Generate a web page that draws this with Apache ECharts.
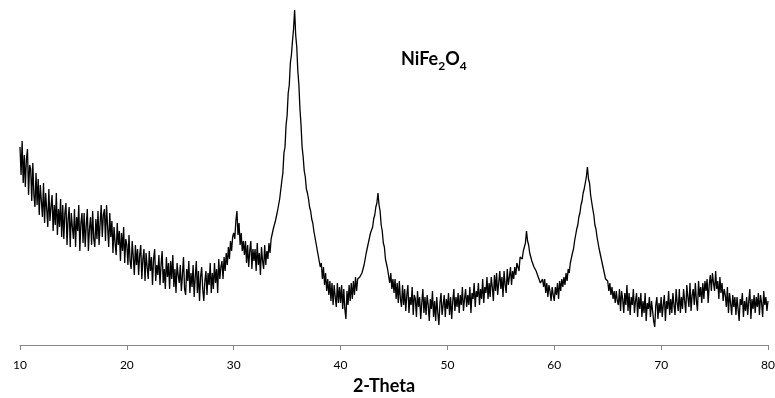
<!DOCTYPE html>
<html>
<head>
<meta charset="utf-8">
<script src="https://cdn.jsdelivr.net/npm/echarts@6/dist/echarts.min.js"></script>
<style>
  html, body { margin: 0; padding: 0; background: #fff; }
  #chart { width: 775px; height: 398px; }
</style>
</head>
<body>
<div id="chart"></div>
<script>
// 2-Theta sampling: start angle and step (degrees)
var thetaStart = 10;
var thetaStep = 0.1;

// intensity (a.u.), one row = 1 degree (x.0 .. x.9)
var intensity = [
  198, 170, 204, 162, 190, 158, 186, 196, 150, 180,   // 10
  176, 144, 182, 150, 138, 172, 140, 166, 130, 160,   // 11
  158, 128, 162, 122, 152, 136, 118, 156, 124, 138,   // 12
  150, 114, 140, 120, 152, 110, 136, 118, 146, 108,   // 13
  140, 106, 132, 142, 100, 126, 138, 98, 132, 118,    // 14
  106, 136, 98, 128, 114, 140, 94, 122, 132, 102,     // 15
  132, 98, 120, 136, 94, 116, 128, 100, 134, 106,     // 16
  98, 126, 106, 134, 100, 122, 140, 108, 130, 136,    // 17
  104, 140, 118, 98, 132, 108, 124, 92, 118, 102,     // 18
  90, 122, 100, 114, 84, 112, 94, 118, 82, 106,       // 19
  100, 80, 110, 84, 76, 104, 88, 70, 100, 80,         // 20
  96, 70, 90, 100, 66, 86, 96, 64, 92, 78,            // 21
  66, 94, 74, 88, 60, 86, 96, 64, 80, 70,             // 22
  90, 60, 80, 94, 62, 76, 56, 88, 68, 82,             // 23
  56, 84, 66, 90, 58, 76, 52, 82, 70, 62,             // 24
  80, 54, 70, 88, 56, 50, 76, 64, 84, 52,             // 25
  72, 58, 80, 48, 68, 84, 52, 74, 44, 68,             // 26
  78, 56, 44, 64, 74, 50, 72, 60, 82, 52,             // 27
  72, 56, 82, 62, 76, 52, 86, 66, 78, 84,             // 28
  66, 88, 74, 92, 80, 98, 86, 104, 94, 108,           // 29
  112, 106, 124, 134, 110, 122, 100, 112, 94, 104,    // 30
  90, 104, 82, 100, 78, 94, 104, 76, 96, 84,          // 31
  96, 74, 102, 80, 92, 70, 98, 84, 76, 100,           // 32
  80, 94, 86, 102, 92, 106, 104, 116, 114, 124,       // 33
  124, 134, 134, 146, 146, 164, 172, 192, 198, 220,   // 34
  230, 252, 260, 282, 290, 304, 316, 335, 310, 298,   // 35
  274, 260, 236, 220, 198, 188, 174, 168, 156, 152,   // 36
  146, 138, 134, 126, 122, 114, 114, 102, 102, 90,    // 37
  92, 78, 82, 66, 78, 60, 72, 54, 66, 50,             // 38
  64, 44, 62, 40, 60, 48, 38, 62, 42, 58,             // 39
  42, 60, 36, 56, 36, 26, 54, 40, 60, 44,             // 40
  62, 46, 64, 50, 68, 54, 66, 64, 68, 70,             // 41
  72, 76, 80, 82, 92, 92, 102, 102, 112, 114,         // 42
  118, 126, 130, 138, 142, 152, 140, 134, 120, 114,   // 43
  102, 98, 86, 86, 76, 74, 62, 72, 56, 66,            // 44
  52, 66, 46, 62, 42, 64, 46, 38, 60, 40,             // 45
  56, 34, 50, 60, 32, 48, 40, 58, 30, 50,             // 46
  46, 28, 54, 38, 48, 26, 42, 56, 32, 48,             // 47
  30, 50, 40, 24, 46, 36, 54, 28, 44, 24,             // 48
  48, 32, 20, 42, 52, 30, 40, 50, 28, 46,             // 49
  36, 52, 30, 48, 26, 44, 56, 34, 48, 38,             // 50
  52, 32, 50, 40, 58, 34, 46, 56, 38, 50,             // 51
  40, 58, 32, 52, 46, 62, 38, 54, 48, 62,             // 52
  40, 56, 46, 66, 42, 58, 52, 68, 46, 62,             // 53
  48, 68, 58, 44, 70, 54, 72, 50, 62, 74,             // 54
  56, 68, 48, 74, 60, 52, 76, 60, 68, 78,             // 55
  60, 74, 66, 78, 70, 82, 80, 74, 88, 86,             // 56
  86, 94, 96, 102, 114, 104, 100, 92, 92, 84,         // 57
  86, 78, 78, 74, 72, 68, 68, 62, 62, 66,             // 58
  58, 66, 52, 62, 48, 60, 54, 44, 58, 50,             // 59
  44, 58, 50, 62, 46, 64, 54, 66, 58, 68,             // 60
  60, 72, 64, 76, 72, 82, 84, 92, 96, 104,            // 61
  106, 116, 120, 128, 132, 140, 144, 152, 156, 162,   // 62
  168, 178, 166, 162, 150, 148, 136, 130, 120, 116,   // 63
  108, 106, 96, 94, 86, 84, 76, 74, 66, 66,           // 64
  64, 54, 62, 50, 58, 46, 54, 42, 54, 44,             // 65
  40, 56, 34, 54, 46, 32, 52, 40, 60, 34,             // 66
  52, 30, 48, 40, 56, 32, 44, 52, 28, 48,             // 67
  36, 52, 28, 44, 32, 52, 24, 42, 36, 48,             // 68
  28, 44, 34, 24, 18, 40, 48, 26, 42, 32,             // 69
  48, 28, 40, 50, 24, 44, 36, 54, 30, 46,             // 70
  32, 52, 40, 30, 56, 42, 34, 56, 32, 48,             // 71
  36, 56, 44, 32, 60, 48, 38, 62, 34, 50,             // 72
  56, 40, 62, 44, 34, 64, 48, 58, 42, 62,             // 73
  46, 64, 54, 66, 42, 60, 70, 54, 72, 62,             // 74
  54, 74, 56, 64, 46, 68, 52, 62, 44, 56,             // 75
  50, 38, 58, 32, 52, 42, 30, 50, 38, 48,             // 76
  30, 48, 36, 24, 46, 40, 52, 28, 44, 34,             // 77
  48, 30, 44, 56, 26, 46, 36, 50, 32, 48,             // 78
  38, 52, 30, 50, 42, 28, 54, 40, 48, 34,             // 79
  44                                                  // 80
];

var xTicks = [10, 20, 30, 40, 50, 60, 70, 80];

var seriesData = intensity.map(function (v, i) {
  return [+(thetaStart + i * thetaStep).toFixed(1), v];
});

var chart = echarts.init(document.getElementById('chart'));
var option = {
  animation: false,
  backgroundColor: '#fff',
  title: {
    text: '{a|NiFe}{s|2}{a|O}{s|4}',
    left: 396,
    top: 45,
    textStyle: {
      rich: {
        a: { fontFamily: 'Lato', fontWeight: 'bold', fontSize: 18, color: '#000', verticalAlign: 'top', lineHeight: 22 },
        s: { fontFamily: 'Lato', fontWeight: 'bold', fontSize: 12, color: '#000', verticalAlign: 'bottom', lineHeight: 22 }
      }
    }
  },
  grid: { left: 20, right: 7, top: 0, bottom: 53, outerBoundsMode: 'none', containLabel: false },
  xAxis: {
    type: 'value',
    min: 10,
    max: 80,
    interval: 10,
    name: '2-Theta',
    nameLocation: 'middle',
    nameGap: 32,
    nameTextStyle: { fontFamily: 'Lato', fontWeight: 'bold', fontSize: 18, color: '#000', padding: [0, 20, 0, 0] },
    axisLine: { lineStyle: { color: '#868686', width: 1 } },
    axisTick: { show: true, length: 5, lineStyle: { color: '#868686' } },
    splitLine: { show: false },
    axisLabel: {
      fontFamily: 'Lato', fontSize: 12, color: '#000', margin: 14,
      formatter: function (v) { return xTicks.indexOf(v) >= 0 ? String(v) : ''; }
    }
  },
  yAxis: {
    type: 'value',
    min: 0,
    max: 345,
    show: false,
    splitLine: { show: false }
  },
  series: [{
    type: 'line',
    data: seriesData,
    showSymbol: false,
    symbol: 'none',
    lineStyle: { color: '#000', width: 1.3 },
    clip: false
  }]
};
chart.setOption(option);
</script>
</body>
</html>
